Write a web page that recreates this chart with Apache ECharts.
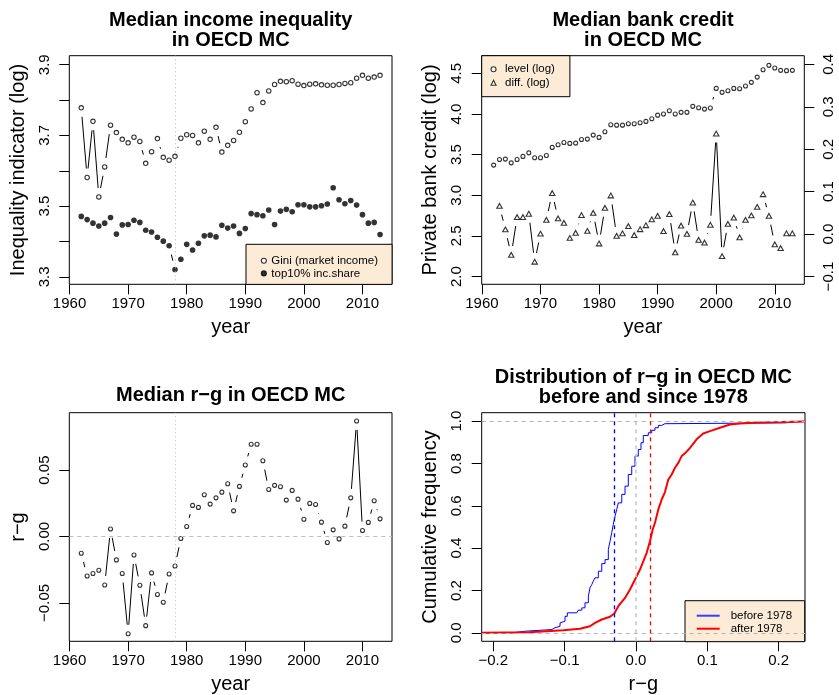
<!DOCTYPE html>
<html>
<head>
<meta charset="utf-8">
<script src="https://cdn.jsdelivr.net/npm/echarts@6/dist/echarts.min.js"></script>
<style>
html,body{margin:0;padding:0;background:#fff}
#main{width:839px;height:695px}
</style>
</head>
<body>
<div id="main"></div>
<script>
// ---- data ----
var years = [1962,1963,1964,1965,1966,1967,1968,1969,1970,1971,
             1972,1973,1974,1975,1976,1977,1978,1979,1980,1981,
             1982,1983,1984,1985,1986,1987,1988,1989,1990,1991,
             1992,1993,1994,1995,1996,1997,1998,1999,2000,2001,
             2002,2003,2004,2005,2006,2007,2008,2009,2010,2011,
             2012,2013];
var gini = [3.778,3.581,3.740,3.526,3.611,3.729,3.708,3.689,3.679,3.695,
            3.683,3.621,3.654,3.691,3.638,3.630,3.641,3.692,3.702,3.700,
            3.679,3.712,3.689,3.723,3.653,3.672,3.686,3.709,3.739,3.775,
            3.821,3.793,3.826,3.844,3.853,3.852,3.855,3.845,3.841,3.845,
            3.846,3.843,3.842,3.842,3.844,3.847,3.849,3.862,3.870,3.862,
            3.865,3.870];
var top10 = [3.471,3.462,3.452,3.444,3.452,3.468,3.421,3.447,3.448,3.460,
             3.454,3.432,3.427,3.412,3.401,3.388,3.321,3.350,3.392,3.376,
             3.395,3.416,3.418,3.413,3.446,3.438,3.444,3.423,3.437,3.479,
             3.476,3.473,3.489,3.448,3.486,3.491,3.484,3.504,3.504,3.498,
             3.498,3.501,3.506,3.552,3.518,3.507,3.516,3.503,3.476,3.452,
             3.454,3.420];
var creditLevel = [3.371,3.441,3.445,3.399,3.441,3.478,3.522,3.461,3.461,3.490,
                   3.589,3.621,3.650,3.638,3.642,3.687,3.691,3.740,3.712,3.781,
                   3.867,3.863,3.863,3.879,3.879,3.892,3.909,3.941,3.986,3.999,
                   4.039,3.999,4.020,4.020,4.094,4.077,4.060,4.073,4.315,4.266,
                   4.286,4.315,4.311,4.344,4.389,4.454,4.545,4.598,4.565,4.537,
                   4.533,4.537];
var creditDiff = [null,0.0665,0.011,-0.049,0.040,0.040,0.048,-0.065,0.001,0.0335,
                  0.0965,0.037,0.0265,-0.009,0.003,0.045,0.0075,0.050,-0.022,0.062,
                  0.091,-0.004,0.002,0.019,-0.0025,0.0115,0.021,0.035,0.043,0.007,
                  0.047,-0.043,0.020,0.0005,0.0745,-0.0135,-0.020,0.022,0.237,-0.052,
                  0.024,0.039,-0.0075,0.0335,0.044,0.064,0.094,0.043,-0.024,-0.033,
                  0.002,0.002];
var rg = [-0.0126,-0.0297,-0.0279,-0.0254,-0.0365,0.0057,-0.0176,-0.0279,-0.0732,-0.0139,
          -0.0367,-0.0671,-0.0274,-0.0437,-0.0495,-0.0282,-0.0222,-0.0015,0.0075,0.0234,
          0.0219,0.0314,0.0244,0.0291,0.0334,0.0397,0.0193,0.0377,0.0538,0.0694,
          0.0694,0.0570,0.0354,0.0385,0.0374,0.0274,0.0347,0.0281,0.0130,0.0249,
          0.0241,0.0108,-0.0045,0.0050,-0.0018,0.0078,0.0291,0.0870,0.0045,0.0106,
          0.0269,0.0133];
// empirical cdf of r-g, before 1978 (x, F)
var cdfBeforeX = [-0.2163,-0.174,-0.1556,-0.118,-0.1135,-0.1065,-0.104,-0.0995,-0.0963,-0.083,
                  -0.081,-0.076,-0.0715,-0.0668,-0.0645,-0.062,-0.0598,-0.0575,-0.0528,-0.048,
                  -0.0434,-0.0388,-0.0364,-0.034,-0.0318,-0.0294,-0.027,-0.0248,-0.020,-0.0154,
                  -0.0108,-0.006,-0.0014,0.0032,0.007,0.0102,0.0172,0.022,0.0266,0.0313,
                  0.036,0.0406,0.2088,0.2369];
var cdfBeforeF = [0,0.0076,0.0156,0.024,0.031,0.047,0.055,0.078,0.0945,0.0945,
                  0.107,0.118,0.142,0.173,0.213,0.228,0.244,0.260,0.291,0.327,
                  0.346,0.394,0.433,0.473,0.512,0.551,0.583,0.614,0.654,0.693,
                  0.748,0.787,0.835,0.866,0.898,0.932,0.945,0.957,0.969,0.980,
                  0.988,0.992,1.0,1.0];
// empirical cdf of r-g, since 1978
var cdfAfterX = [-0.2163,-0.15,-0.125,-0.102,-0.0785,-0.0645,-0.0575,-0.048,-0.0364,-0.0304,
                 -0.0248,-0.0154,-0.0084,-0.0014,0.0056,0.0102,0.015,0.0196,0.0234,0.0266,
                 0.0313,0.036,0.0406,0.0453,0.050,0.0547,0.0593,0.064,0.0687,0.0757,
                 0.085,0.0943,0.1037,0.1177,0.1317,0.1458,0.1644,0.1924,0.2369];
var cdfAfterF = [0,0.003,0.008,0.012,0.019,0.031,0.047,0.063,0.076,0.091,
                 0.126,0.165,0.205,0.252,0.299,0.338,0.378,0.433,0.488,0.520,
                 0.583,0.630,0.665,0.724,0.748,0.780,0.803,0.835,0.848,0.874,
                 0.914,0.942,0.953,0.969,0.984,0.989,0.992,0.995,0.998];
var medBefore = -0.0318, medAfter = 0.0248, splitYear = 1978;

var yearTicks = [1960,1970,1980,1990,2000,2010];

var FONT = '"Liberation Sans", Arial, Helvetica, sans-serif';
var GAP = 9; // gap around points, like R type="b"

function fmt(v, d) {
    var s = Math.abs(v) < 1e-9 ? (0).toFixed(d) : v.toFixed(d);
    return s.charAt(0) === '-' ? '\u2212' + s.slice(1) : s;
}
function pts(ys) {
    var r = [];
    for (var i = 0; i < ys.length; i++) if (ys[i] != null) r.push([years[i], ys[i]]);
    return r;
}
function pairs(xs, ys) {
    var r = [];
    for (var i = 0; i < xs.length; i++) r.push([xs[i], ys[i]]);
    return r;
}
function segs(ys) {
    var r = [];
    for (var i = 0; i + 1 < ys.length; i++)
        if (ys[i] != null && ys[i + 1] != null) r.push([years[i], ys[i], years[i + 1], ys[i + 1]]);
    return r;
}
function segSeries(xi, yi, ys) {
    return {
        type: 'custom', xAxisIndex: xi, yAxisIndex: yi, silent: true, z: 2,
        data: segs(ys), encode: {x: [0, 2], y: [1, 3]},
        renderItem: function (params, api) {
            var p0 = api.coord([api.value(0), api.value(1)]);
            var p1 = api.coord([api.value(2), api.value(3)]);
            var dx = p1[0] - p0[0], dy = p1[1] - p0[1];
            var d = Math.sqrt(dx * dx + dy * dy);
            if (d <= 2 * GAP) return null;
            var ux = dx / d, uy = dy / d;
            return {
                type: 'line',
                shape: {x1: p0[0] + ux * GAP, y1: p0[1] + uy * GAP, x2: p1[0] - ux * GAP, y2: p1[1] - uy * GAP},
                style: {stroke: '#000', lineWidth: 1}
            };
        }
    };
}
function xAx(gi, min, max, ticks, dec, name) {
    return {
        type: 'value', gridIndex: gi, min: min, max: max,
        name: name, nameLocation: 'middle', nameGap: 33,
        nameTextStyle: {fontSize: 20, color: '#000', fontFamily: FONT},
        axisLine: {show: false, onZero: false},
        axisTick: {length: 10, lineStyle: {color: '#000'}, customValues: ticks},
        axisLabel: {customValues: ticks, margin: 12, fontSize: 15, color: '#000', fontFamily: FONT,
            formatter: function (v) { return dec == null ? String(v) : fmt(v, dec); }},
        splitLine: {show: false}
    };
}
function yAx(gi, min, max, ticks, labels, dec, name, pos) {
    return {
        type: 'value', gridIndex: gi, min: min, max: max, position: pos || 'left',
        name: name, nameLocation: 'middle', nameGap: 41,
        nameTextStyle: {fontSize: 20, color: '#000', fontFamily: FONT},
        axisLine: {show: false, onZero: false},
        axisTick: {length: 10, lineStyle: {color: '#000'}, customValues: ticks},
        axisLabel: {customValues: labels, margin: 17, rotate: 90, fontSize: 15, color: '#000', fontFamily: FONT,
            formatter: function (v) { return fmt(v, dec); }},
        splitLine: {show: false}
    };
}
var openCircle = {color: '#fff', borderColor: '#000', borderWidth: 1.1};
var mlBase = {silent: true, symbol: ['none', 'none'], label: {show: false}, animation: false};
function title(txt, x, y) {
    return {type: 'text', x: x, y: y, silent: true,
        style: {text: txt, font: 'bold 20px ' + FONT, fill: '#000', align: 'center', verticalAlign: 'middle'}};
}
function legendBox(o) {
    var base = {orient: 'vertical', selectedMode: false, backgroundColor: '#FCEBD6',
        borderColor: '#000', borderWidth: 1, borderRadius: 0, itemWidth: 5, itemHeight: 5,
        itemStyle: {borderWidth: 1.1},
        textStyle: {fontSize: 11.5, lineHeight: 12, color: '#000', fontFamily: FONT}};
    for (var k in o) base[k] = o[k];
    return base;
}

var chart = echarts.init(document.getElementById('main'));
chart.setOption({
    animation: false,
    backgroundColor: '#fff',
    textStyle: {fontFamily: FONT},
    graphic: [
        title('Median income inequality', 230.7, 20),
        title('in OECD MC', 230.7, 40),
        title('Median bank credit', 643, 20),
        title('in OECD MC', 643, 40),
        title('Median r\u2212g in OECD MC', 230.7, 395),
        title('Distribution of r\u2212g in OECD MC', 643.3, 377),
        title('before and since 1978', 643.3, 397)
    ],
    grid: [
        {left: 69.3, top: 55.7, width: 322.7, height: 228.6, show: true, borderColor: '#000', borderWidth: 1, outerBoundsMode: 'none'},
        {left: 481.7, top: 55.7, width: 322.6, height: 228.6, show: true, borderColor: '#000', borderWidth: 1, outerBoundsMode: 'none'},
        {left: 69.3, top: 412.7, width: 322.7, height: 228.6, show: true, borderColor: '#000', borderWidth: 1, outerBoundsMode: 'none'},
        {left: 481.7, top: 412.7, width: 323.3, height: 228.6, show: true, borderColor: '#000', borderWidth: 1, outerBoundsMode: 'none'}
    ],
    xAxis: [
        xAx(0, 1959.96, 2015.04, yearTicks, null, 'year'),
        xAx(1, 1959.96, 2015.04, yearTicks, null, 'year'),
        xAx(2, 1959.96, 2015.04, yearTicks, null, 'year'),
        xAx(3, -0.2163, 0.2369, [-0.2, -0.1, 0, 0.1, 0.2], 1, 'r\u2212g')
    ],
    yAxis: [
        yAx(0, 3.279, 3.9255, [3.3, 3.4, 3.5, 3.6, 3.7, 3.8, 3.9], [3.3, 3.5, 3.7, 3.9], 1, 'Inequality indicator (log)'),
        yAx(1, 1.905, 4.717, [2, 2.5, 3, 3.5, 4, 4.5], [2, 2.5, 3, 3.5, 4, 4.5], 1, 'Private bank credit (log)'),
        yAx(1, -0.1182, 0.4203, [-0.1, 0, 0.1, 0.2, 0.3, 0.4], [-0.1, 0, 0.1, 0.2, 0.3, 0.4], 1, '', 'right'),
        yAx(2, -0.0789, 0.0932, [-0.05, 0, 0.05], [-0.05, 0, 0.05], 2, 'r\u2212g'),
        yAx(3, -0.04, 1.04, [0, 0.2, 0.4, 0.6, 0.8, 1], [0, 0.2, 0.4, 0.6, 0.8, 1], 1, 'Cumulative frequency')
    ],
    legend: [
        legendBox({left: 246, top: 244.3, padding: [10.4, 14, 5, 14.8], itemGap: 0.7,
            data: ['Gini (market income)', 'top10% inc.share']}),
        legendBox({left: 481.7, top: 55.7, padding: [7.6, 15, 8, 8.8], itemGap: 1.4,
            textStyle: {fontSize: 11.5, lineHeight: 12, color: '#000', fontFamily: FONT, padding: [0, 0, 0, 4]},
            data: ['level (log)', 'diff. (log)']}),
        legendBox({left: 685, top: 600.7, padding: [9, 12.6, 7, 11.7], itemGap: 1, itemWidth: 23, itemHeight: 2,
            icon: 'rect', itemStyle: {borderWidth: 0},
            textStyle: {fontSize: 11.5, lineHeight: 12, color: '#000', fontFamily: FONT, padding: [0, 0, 0, 6]},
            data: ['before 1978', 'after 1978']})
    ],
    series: [
        segSeries(0, 0, gini),
        segSeries(0, 0, top10),
        segSeries(1, 1, creditLevel),
        segSeries(1, 2, creditDiff),
        segSeries(2, 3, rg),
        {
            name: 'Gini (market income)', type: 'scatter', xAxisIndex: 0, yAxisIndex: 0, z: 3,
            symbol: 'circle', symbolSize: 4.4, itemStyle: openCircle, data: pts(gini),
            markLine: Object.assign({data: [{xAxis: splitYear}],
                lineStyle: {color: '#bbbbbb', type: [1, 3], width: 1}}, mlBase)
        },
        {
            name: 'top10% inc.share', type: 'scatter', xAxisIndex: 0, yAxisIndex: 0, z: 3,
            symbol: 'circle', symbolSize: 5.6, itemStyle: {color: '#000', borderColor: '#000', borderWidth: 0},
            data: pts(top10)
        },
        {
            name: 'level (log)', type: 'scatter', xAxisIndex: 1, yAxisIndex: 1, z: 3,
            symbol: 'circle', symbolSize: 4, itemStyle: openCircle, data: pts(creditLevel)
        },
        {
            name: 'diff. (log)', type: 'scatter', xAxisIndex: 1, yAxisIndex: 2, z: 3,
            symbol: 'triangle', symbolSize: [5.4, 4.8], itemStyle: openCircle, data: pts(creditDiff)
        },
        {
            name: 'r-g', type: 'scatter', xAxisIndex: 2, yAxisIndex: 3, z: 3,
            symbol: 'circle', symbolSize: 4, itemStyle: openCircle, data: pts(rg),
            markLine: Object.assign({data: [
                {xAxis: splitYear, lineStyle: {color: '#bbbbbb', type: [1, 3], width: 1}},
                {yAxis: 0, lineStyle: {color: '#bbbbbb', type: [4, 4], width: 1}}
            ]}, mlBase)
        },
        {
            name: 'before 1978', type: 'line', xAxisIndex: 3, yAxisIndex: 4, z: 3,
            symbol: 'none', step: 'end', lineStyle: {color: '#0000ff', width: 1}, itemStyle: {color: '#3b3bff'},
            data: pairs(cdfBeforeX, cdfBeforeF),
            markLine: Object.assign({data: [
                {yAxis: 0, lineStyle: {color: '#b3b3b3', type: [4, 4], width: 1}},
                {yAxis: 1, lineStyle: {color: '#b3b3b3', type: [4, 4], width: 1}},
                {xAxis: 0, lineStyle: {color: '#c8c8c8', type: [4, 4], width: 1.5}},
                {xAxis: medBefore, lineStyle: {color: '#0000ff', type: [4, 4], width: 1.3}}
            ]}, mlBase)
        },
        {
            name: 'after 1978', type: 'line', xAxisIndex: 3, yAxisIndex: 4, z: 4,
            symbol: 'none', lineStyle: {color: '#ff0000', width: 2}, itemStyle: {color: '#ff0000'},
            data: pairs(cdfAfterX, cdfAfterF),
            markLine: Object.assign({data: [
                {xAxis: medAfter, lineStyle: {color: '#ff0000', type: [4, 4], width: 1.3}}
            ]}, mlBase)
        }
    ]
});
</script>
</body>
</html>
